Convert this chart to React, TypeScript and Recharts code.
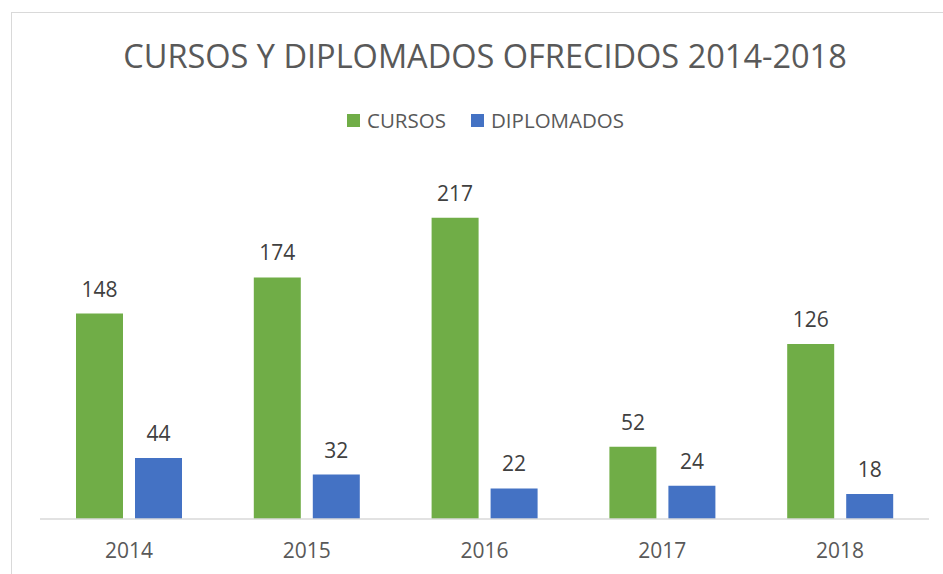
import React from "react";
import { BarChart, Bar, XAxis, YAxis, LabelList } from "recharts";

const years = ["2014", "2015", "2016", "2017", "2018"];
const cursos = [148, 174, 217, 52, 126];
const diplomados = [44, 32, 22, 24, 18];
const seriesNames = ["CURSOS", "DIPLOMADOS"];
const seriesColors = ["#70AD47", "#4472C4"];
const title = "CURSOS Y DIPLOMADOS OFRECIDOS 2014-2018";

const data = years.map((y, i) => ({ year: y, cursos: cursos[i], diplomados: diplomados[i] }));

const FONT = "'Open Sans', sans-serif";

export default function App() {
  return (
    <div style={{ position: "absolute", left: 0, top: 0, width: 943, height: 574, background: "#fff", overflow: "hidden", fontFamily: FONT }}>
      <div style={{ position: "absolute", left: 11, top: 12, width: 1000, height: 600, borderLeft: "1.5px solid #d9d9d9", borderTop: "1.5px solid #d9d9d9" }} />
      <div style={{ position: "absolute", left: 0, top: 0 }}>
        <BarChart
          width={943}
          height={574}
          data={data}
          margin={{ top: 172, right: 14, left: 40, bottom: 0 }}
          barCategoryGap={36}
          barGap={12}
        >
          <XAxis
            dataKey="year"
            height={55}
            tickLine={false}
            tickSize={6}
            tickMargin={18}
            axisLine={{ stroke: "#d9d9d9", strokeWidth: 1.5 }}
            tick={{ fill: "#595959", fontSize: 21, fontFamily: FONT }}
          />
          <YAxis hide domain={[0, 250]} />
          <Bar dataKey="cursos" name={seriesNames[0]} fill={seriesColors[0]} isAnimationActive={false}>
            <LabelList dataKey="cursos" position="top" offset={17} fill="#404040" fontSize={21} fontFamily={FONT} />
          </Bar>
          <Bar dataKey="diplomados" name={seriesNames[1]} fill={seriesColors[1]} isAnimationActive={false}>
            <LabelList dataKey="diplomados" position="top" offset={17} fill="#404040" fontSize={21} fontFamily={FONT} />
          </Bar>
        </BarChart>
      </div>
      <svg width={943} height={574} style={{ position: "absolute", left: 0, top: 0, pointerEvents: "none" }}>
        <text x={485} y={68} textAnchor="middle" fill="#595959" fontSize={32.5} fontFamily={FONT}>{title}</text>
        <rect x={347} y={114} width={13} height={13} fill={seriesColors[0]} />
        <text x={367} y={127.5} fill="#595959" fontSize={20.5} fontFamily={FONT}>{seriesNames[0]}</text>
        <rect x={471} y={114} width={13} height={13} fill={seriesColors[1]} />
        <text x={491} y={127.5} fill="#595959" fontSize={20.5} fontFamily={FONT}>{seriesNames[1]}</text>
      </svg>
    </div>
  );
}
